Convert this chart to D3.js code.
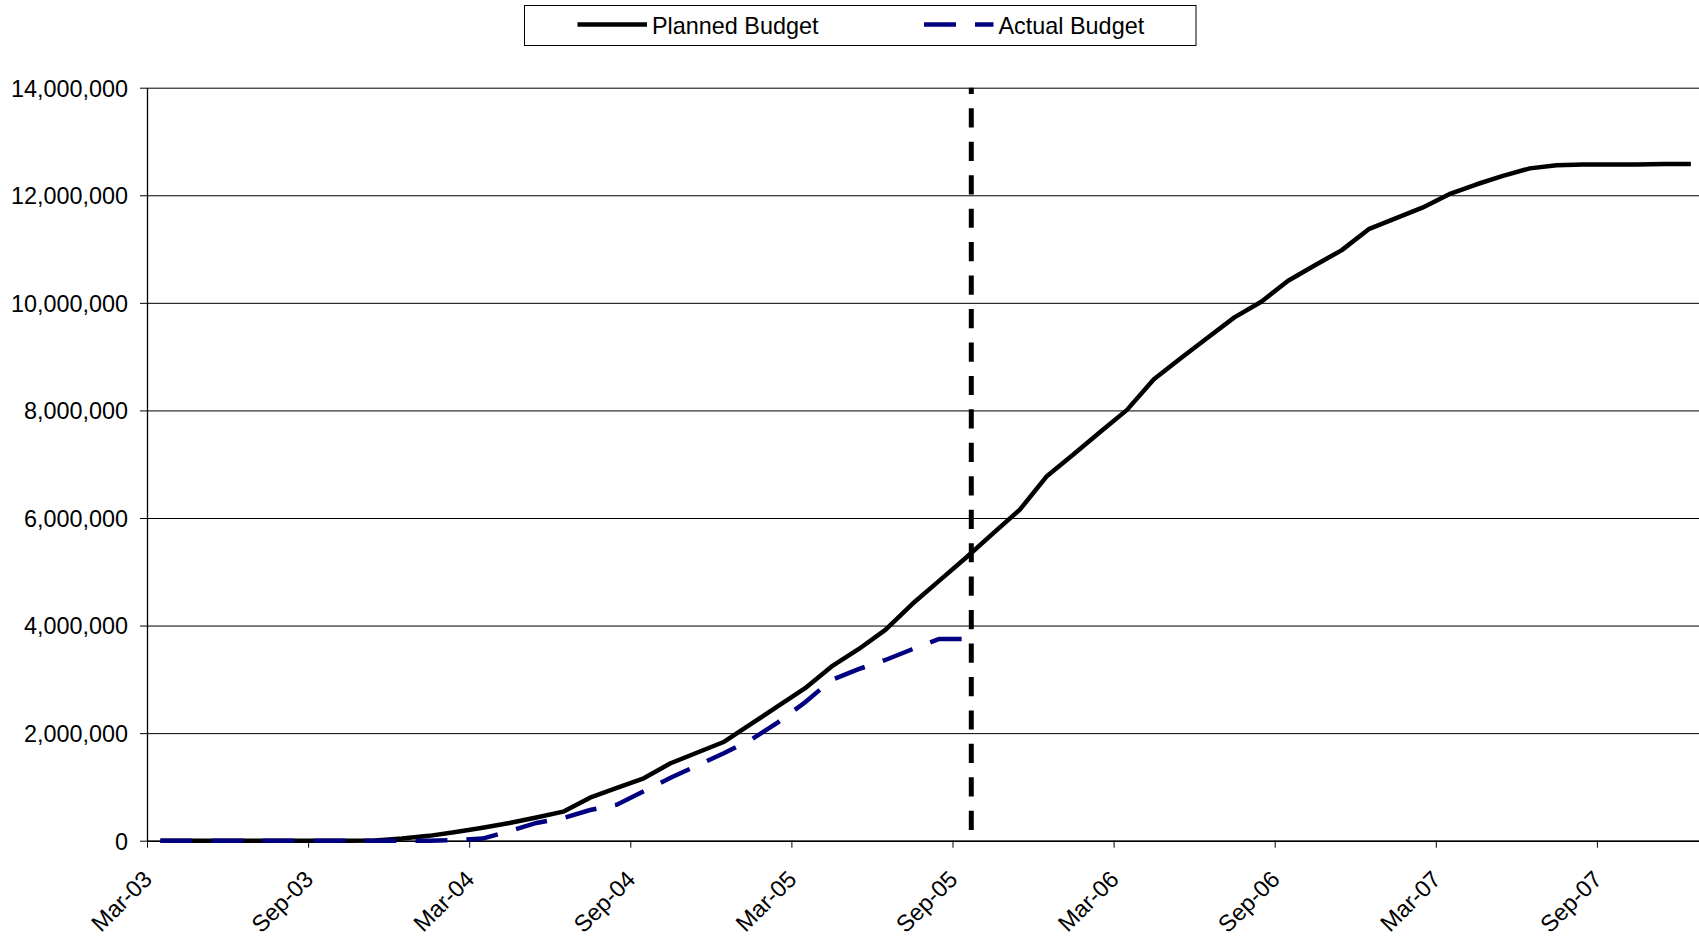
<!DOCTYPE html>
<html>

<head>
    <meta charset="utf-8">
    <script src="https://d3js.org/d3.v7.min.js"></script>
    <title>Planned vs Actual Budget</title>
    <style>
        body {
            margin: 0;
            background: #fff;
        }

        svg {
            display: block;
            font-family: "Liberation Sans", Arial, sans-serif;
        }
    </style>
</head>

<body>
    <div id="chart"></div>

    <script>
        // monthly categories, Mar-03 .. Dec-07
        const months = [
            "Mar-03", "Apr-03", "May-03", "Jun-03", "Jul-03", "Aug-03", "Sep-03", "Oct-03", "Nov-03", "Dec-03",
            "Jan-04", "Feb-04", "Mar-04", "Apr-04", "May-04", "Jun-04", "Jul-04", "Aug-04", "Sep-04", "Oct-04", "Nov-04", "Dec-04",
            "Jan-05", "Feb-05", "Mar-05", "Apr-05", "May-05", "Jun-05", "Jul-05", "Aug-05", "Sep-05", "Oct-05", "Nov-05", "Dec-05",
            "Jan-06", "Feb-06", "Mar-06", "Apr-06", "May-06", "Jun-06", "Jul-06", "Aug-06", "Sep-06", "Oct-06", "Nov-06", "Dec-06",
            "Jan-07", "Feb-07", "Mar-07", "Apr-07", "May-07", "Jun-07", "Jul-07", "Aug-07", "Sep-07", "Oct-07", "Nov-07", "Dec-07"
        ];
        const tickLabels = ["Mar-03", "Sep-03", "Mar-04", "Sep-04", "Mar-05", "Sep-05", "Mar-06", "Sep-06", "Mar-07", "Sep-07"];

        const planned = [
            0, 0, 0, 0, 0, 0, 0, 0, 5000, 40000,
            90000, 160000, 240000, 330000, 430000, 540000, 800000, 980000, 1160000, 1440000, 1640000, 1840000,
            2170000, 2500000, 2830000, 3240000, 3560000, 3920000, 4400000, 4830000, 5260000, 5710000, 6150000, 6770000,
            7180000, 7600000, 8010000, 8580000, 8970000, 9350000, 9730000, 10020000, 10410000, 10700000, 10980000, 11370000,
            11570000, 11770000, 12020000, 12200000, 12360000, 12500000, 12560000, 12570000, 12570000, 12570000, 12580000, 12580000
        ];
        const actual = [
            0, 0, 0, 0, 0, 0, 0, 0, 0, 0,
            0, 10000, 40000, 180000, 330000, 420000, 570000, 670000, 920000, 1170000, 1400000, 1630000,
            1880000, 2200000, 2570000, 2990000, 3190000, 3360000, 3560000, 3750000, 3750000
        ];
        const seriesNames = ["Planned Budget", "Actual Budget"];
        const yTicks = [0, 2000000, 4000000, 6000000, 8000000, 10000000, 12000000, 14000000];
        const statusMonth = 30.7; // report date marker (late Sep-05)

        const width = 1699;
        const height = 938;
        const plotLeft = 147;
        const plotTop = 87.7;
        const plotBottom = 840.7;
        const monthW = 26.85;

        const svg = d3.select("#chart").append("svg")
            .attr("width", width)
            .attr("height", height);

        const x = d3.scaleLinear()
            .domain([0, months.length])
            .range([plotLeft, plotLeft + months.length * monthW]);

        const y = d3.scaleLinear()
            .domain([0, 14000000])
            .range([plotBottom, plotTop]);

        // gridlines
        svg.append("g")
            .attr("transform", `translate(${plotLeft},0)`)
            .call(d3.axisLeft(y).tickValues(yTicks).tickSize(-(x.range()[1] - plotLeft)).tickFormat(""))
            .call(g => g.select(".domain").remove())
            .call(g => g.selectAll("line").attr("stroke", "#000").attr("stroke-width", 1));

        // y axis
        svg.append("g")
            .attr("transform", `translate(${plotLeft},0)`)
            .call(d3.axisLeft(y).tickValues(yTicks).tickSize(7).tickSizeOuter(0).tickPadding(12).tickFormat(d3.format(",")))
            .call(g => g.select(".domain").attr("stroke", "#000").attr("stroke-width", 1.3))
            .call(g => g.selectAll("line").attr("stroke", "#000"))
            .call(g => g.selectAll("text")
                .attr("font-size", "23.4px")
                .attr("fill", "#000")
                .attr("dy", "0.36em"));

        // x axis
        const tickIdx = months.map((m, i) => i).filter(i => tickLabels.includes(months[i]));
        svg.append("g")
            .attr("transform", `translate(0,${plotBottom})`)
            .call(d3.axisBottom(x).tickValues(tickIdx).tickSize(7).tickSizeOuter(0).tickFormat(i => months[i]))
            .call(g => g.select(".domain").attr("stroke", "#000").attr("stroke-width", 1.5))
            .call(g => g.selectAll("line").attr("stroke", "#000"))
            .call(g => g.selectAll("text")
                .attr("font-size", "23.4px")
                .attr("fill", "#000")
                .attr("text-anchor", "end")
                .attr("y", 0)
                .attr("dy", 0)
                .attr("transform", "translate(6,40) rotate(-45)"));

        const line = d3.line()
            .x((d, i) => x(i + 0.5))
            .y(d => y(d));

        svg.append("path")
            .datum(planned)
            .attr("d", line)
            .attr("fill", "none")
            .attr("stroke", "#000")
            .attr("stroke-width", 4.5)
            .attr("stroke-linejoin", "round");

        svg.append("path")
            .datum(actual)
            .attr("d", line)
            .attr("fill", "none")
            .attr("stroke", "#000080")
            .attr("stroke-width", 4.5)
            .attr("stroke-dasharray", "32,19");

        // report date marker
        svg.append("line")
            .attr("x1", x(statusMonth))
            .attr("x2", x(statusMonth))
            .attr("y1", y(14000000))
            .attr("y2", y(0))
            .attr("stroke", "#000")
            .attr("stroke-width", 5)
            .attr("stroke-dasharray", "19.2,14.25")
            .attr("stroke-dashoffset", 12.85);

        // legend
        const legend = svg.append("g")
            .attr("transform", "translate(524.5,5.5)");

        legend.append("rect")
            .attr("width", 671.5)
            .attr("height", 40)
            .attr("fill", "#fff")
            .attr("stroke", "#000")
            .attr("stroke-width", 1);

        const items = [
            { name: seriesNames[0], x1: 53, color: "#000", dash: null },
            { name: seriesNames[1], x1: 399.5, color: "#000080", dash: "32,19" }
        ];

        const item = legend.selectAll("g.item")
            .data(items)
            .join("g")
            .attr("class", "item");

        item.append("line")
            .attr("x1", d => d.x1)
            .attr("x2", d => d.x1 + 69.5)
            .attr("y1", 19)
            .attr("y2", 19)
            .attr("stroke", d => d.color)
            .attr("stroke-width", 4.5)
            .attr("stroke-dasharray", d => d.dash);

        item.append("text")
            .attr("x", d => d.x1 + 74.5)
            .attr("y", 28.5)
            .attr("font-size", "23.4px")
            .attr("fill", "#000")
            .text(d => d.name);
    </script>

</body>

</html>
